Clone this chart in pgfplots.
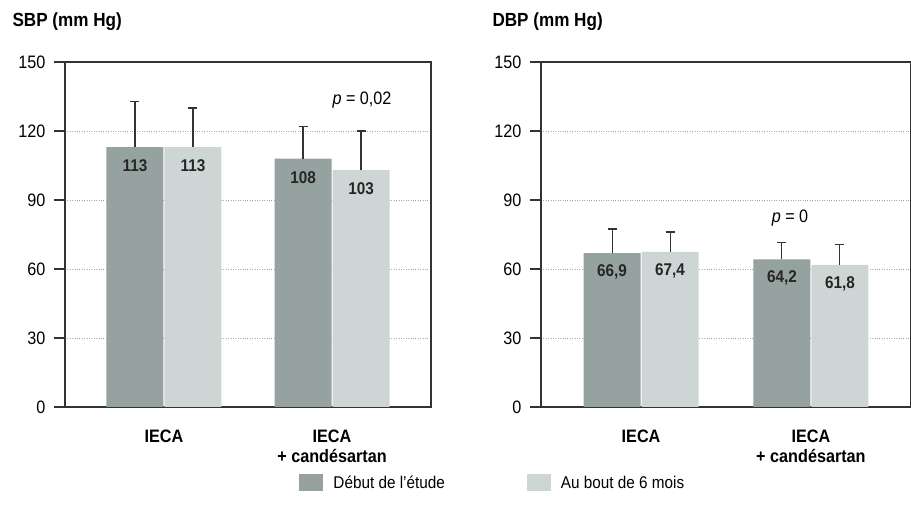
\documentclass[border=0pt]{standalone}
\usepackage{pgfplots}
\pgfplotsset{compat=1.18}
\usepackage{fontspec}
\setmainfont{Liberation Sans}[FakeStretch=0.9]
\definecolor{darkbar}{HTML}{95A29F}
\definecolor{lightbar}{HTML}{CED6D5}
\definecolor{axisgray}{HTML}{333333}
\newcommand{\fs}[1]{\fontsize{#1}{20}\selectfont}

\pgfplotsset{
  bpstyle/.style={
    scale only axis,
    width=366pt, height=345pt,
    ymin=0, ymax=150,
    ytick={0,30,60,90,120,150},
    xmin=-0.589, xmax=1.589,
    xtick={0,1},
    xticklabels={IECA, IECA\\+ candésartan},
    xticklabel style={font=\fs{18}\bfseries, align=center, anchor=north, yshift=-8pt},
    major x tick style={draw=none},
    ytick pos=left,
    tick align=outside,
    major tick length=11pt,
    major y tick style={line width=1.2pt, axisgray},
    yticklabel style={font=\fs{18}, xshift=-5pt},
    axis line style={line width=1.3pt, axisgray},
    ymajorgrids,
    grid style={dotted, gray!70, line width=0.6pt},
    /pgf/number format/assume math mode=true,
    /pgf/number format/use comma,
    ybar=1pt,
    bar width=57pt,
    nodes near coords,
    every node near coord/.append style={font=\fs{17}\bfseries, text=black!85, anchor=center, yshift=-19pt},
    error bars/y dir=plus,
    error bars/y explicit,
    error bars/error bar style={line width=1.1pt, axisgray},
    error bars/error mark options={rotate=90, mark size=4.5pt, line width=1.1pt, axisgray},
    legend image code/.code={\fill[#1, draw=none] (0pt,-8.5pt) rectangle (24pt,8.5pt);},
  }
}

\begin{document}
\begin{tikzpicture}[x=1pt,y=1pt]
\useasboundingbox (0,0) rectangle (911,514);

\begin{axis}[bpstyle, at={(65pt,107pt)}, anchor=south west,
  legend columns=2,
  legend style={at={(1.169,-0.22)}, anchor=center, draw=none, font=\fs{17},
    /tikz/every odd column/.append style={column sep=8pt},
    /tikz/every even column/.append style={column sep=80pt}}]
\addplot[fill=darkbar, draw=none, nodes near coords={\pgfmathprintnumber[fixed, precision=0]{\pgfplotspointmeta}}]
  coordinates {(0,113) +- (0,20) (1,108) +- (0,14)};
\addplot[fill=lightbar, draw=none, nodes near coords={\pgfmathprintnumber[fixed, precision=0]{\pgfplotspointmeta}}]
  coordinates {(0,113) +- (0,17) (1,103) +- (0,17)};
\legend{Début de l'étude, Au bout de 6 mois}
\end{axis}

\begin{axis}[bpstyle, at={(541pt,107pt)}, anchor=south west, width=370pt]
\addplot[fill=darkbar, draw=none, nodes near coords={\pgfmathprintnumber[fixed, fixed zerofill, precision=1]{\pgfplotspointmeta}}]
  coordinates {(0,66.9) +- (0,10.5) (1,64.2) +- (0,7.2)};
\addplot[fill=lightbar, draw=none, nodes near coords={\pgfmathprintnumber[fixed, fixed zerofill, precision=1]{\pgfplotspointmeta}}]
  coordinates {(0,67.4) +- (0,8.7) (1,61.8) +- (0,8.7)};
\end{axis}

\node[anchor=west, font=\fs{19}\bfseries] at (9,492) {SBP (mm Hg)};
\node[anchor=west, font=\fs{19}\bfseries] at (489,492) {DBP (mm Hg)};
\node[font=\fs{18}] at (362,414) {\textit{p} = 0,02};
\node[font=\fs{18}] at (790,296) {\textit{p} = 0};
\end{tikzpicture}
\end{document}
